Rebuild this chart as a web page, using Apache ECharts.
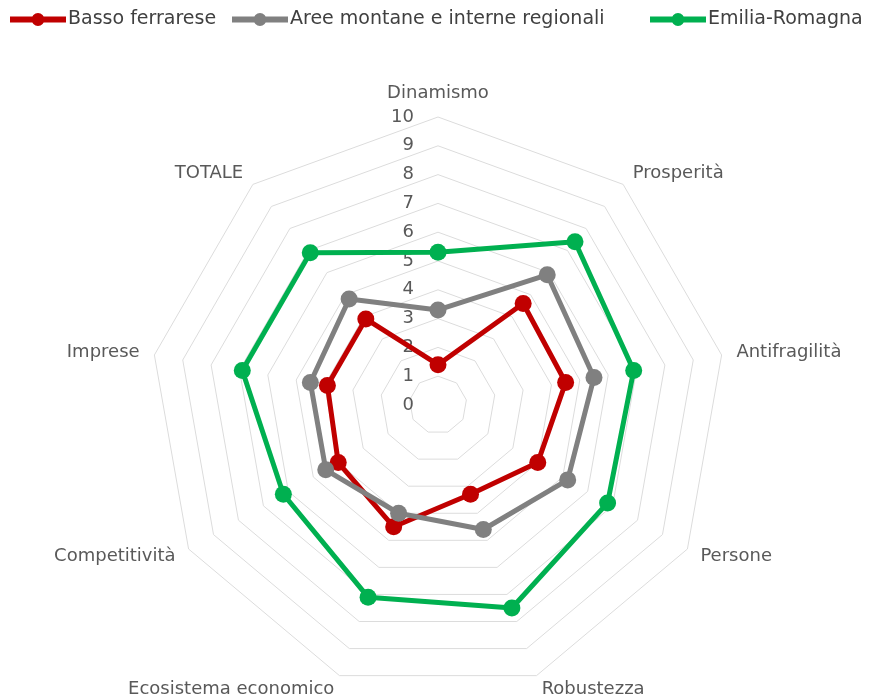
<!DOCTYPE html>
<html>
<head>
<meta charset="utf-8">
<script src="https://cdn.jsdelivr.net/npm/echarts@6/dist/echarts.min.js"></script>
<style>html,body{margin:0;padding:0;background:#fff;}#c{width:872px;height:699px;}</style>
</head>
<body>
<div id="c"></div>
<script>
const categories = ['Dinamismo','Prosperità','Antifragilità','Persone','Robustezza','Ecosistema economico','Competitività','Imprese','TOTALE'];
const seriesNames = ['Basso ferrarese','Aree montane e interne regionali','Emilia-Romagna'];
const bassoFerrarese = [1.4, 4.6, 4.5, 4.0, 3.3, 4.5, 4.0, 3.9, 3.9];
const areeMontane = [3.3, 5.9, 5.5, 5.2, 4.6, 4.0, 4.5, 4.5, 4.8];
const emiliaRomagna = [5.3, 7.4, 6.9, 6.8, 7.5, 7.1, 6.2, 6.9, 6.9];
const tickMax = 10;
const colors = ['#C00000', '#808080', '#00B050'];

// ECharts radar runs counter-clockwise; reorder so the chart reads clockwise
const order = [0, 8, 7, 6, 5, 4, 3, 2, 1];
const reorder = arr => order.map(i => arr[i]);

const FONT = 'DejaVu Sans';
const indicator = reorder(categories).map((name, i) => {
  const o = { name: name, min: 0, max: tickMax };
  if (i === 0) o.axisLabel = { show: true };
  return o;
});

// legend icon: thick line with a dot in the middle
const legendIcon = 'path://M0,3.5 H56 V9.5 H0 Z M21.5,6.5 A6.5,6.5 0 1,1 34.5,6.5 A6.5,6.5 0 1,1 21.5,6.5 Z';

const allData = [bassoFerrarese, areeMontane, emiliaRomagna];
const chart = echarts.init(document.getElementById('c'));
chart.setOption({
  animation: false,
  textStyle: { fontFamily: FONT },
  legend: [0, 1, 2].map(i => ({
    data: [{ name: seriesNames[i], icon: legendIcon, itemStyle: { color: colors[i] } }],
    left: [5, 227, 645][i],
    top: 5,
    itemWidth: 56,
    itemHeight: 13,
    textStyle: { fontFamily: FONT, fontSize: 19, color: '#404040', padding: [0, 0, 0, -3] }
  })),
  radar: {
    center: [438, 405],
    radius: 288,
    splitNumber: 10,
    startAngle: 90,
    shape: 'polygon',
    indicator: indicator,
    axisName: { color: '#595959', fontSize: 18, fontFamily: FONT },
    nameGap: 15,
    axisLine: { show: false },
    axisTick: { show: false },
    axisLabel: { show: false, color: '#595959', fontSize: 18, fontFamily: FONT, margin: 24 },
    splitLine: { lineStyle: { color: '#dcdcdc', width: 1 } },
    splitArea: { show: false }
  },
  series: [{
    type: 'radar',
    data: allData.map((arr, i) => ({
      name: seriesNames[i],
      value: reorder(arr),
      symbol: 'circle',
      symbolSize: 17,
      lineStyle: { color: colors[i], width: 5 },
      itemStyle: { color: colors[i] }
    }))
  }]
});
</script>
</body>
</html>
